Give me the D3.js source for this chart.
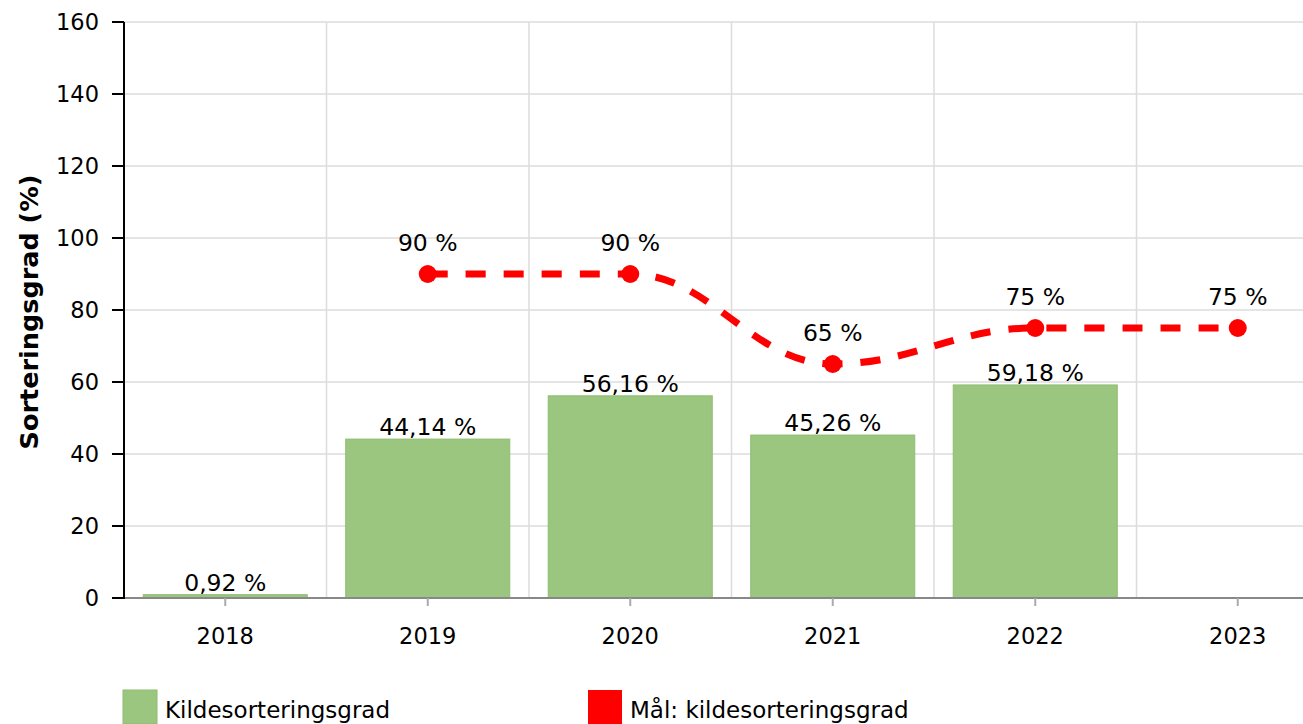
<!DOCTYPE html>
<html>
<head>
<meta charset="utf-8">
<script src="https://d3js.org/d3.v7.min.js"></script>
<style>
  body { margin: 0; background: white; overflow: hidden; }
  text { font-family: "DejaVu Sans", Verdana, sans-serif; }
</style>
</head>
<body>
<div id="chart"></div>
<script>
// data
var years = ["2018", "2019", "2020", "2021", "2022", "2023"];
var barValues = [0.92, 44.14, 56.16, 45.26, 59.18, null];
var barLabels = ["0,92 %", "44,14 %", "56,16 %", "45,26 %", "59,18 %", ""];
var goalYears = ["2019", "2020", "2021", "2022", "2023"];
var goalValues = [90, 90, 65, 75, 75];
var goalLabels = ["90 %", "90 %", "65 %", "75 %", "75 %"];
var yTicks = [0, 20, 40, 60, 80, 100, 120, 140, 160];
var legendNames = ["Kildesorteringsgrad", "Mål: kildesorteringsgrad"];

var W = 1303, H = 724;
var plotLeft = 124, plotTop = 22, plotBottom = 598;
var fs = "22.5px";

var svg = d3.select("#chart").append("svg")
    .attr("width", W).attr("height", H);

var x = d3.scaleBand().domain(years).range([plotLeft, plotLeft + 6 * 202.5]).paddingInner(0.19).paddingOuter(0.095);
var xc = function (d) { return x(d) + x.bandwidth() / 2; };
var y = d3.scaleLinear().domain([0, 160]).range([plotBottom, plotTop]);

// horizontal grid
svg.append("g").selectAll("line").data(yTicks.slice(1)).enter().append("line")
    .attr("x1", plotLeft).attr("x2", W)
    .attr("y1", function (d) { return y(d); }).attr("y2", function (d) { return y(d); })
    .attr("stroke", "#dcdcdc").attr("stroke-width", 1.5);

// vertical grid at band boundaries
var bounds = years.slice(1).map(function (d, i) { return (xc(d) + xc(years[i])) / 2; });
svg.append("g").selectAll("line").data(bounds).enter().append("line")
    .attr("x1", function (d) { return d; }).attr("x2", function (d) { return d; })
    .attr("y1", plotTop).attr("y2", plotBottom)
    .attr("stroke", "#dcdcdc").attr("stroke-width", 1.5);

// bars
var barData = years.map(function (d, i) { return { year: d, v: barValues[i], label: barLabels[i] }; })
    .filter(function (d) { return d.v != null; });
svg.append("g").selectAll("rect").data(barData).enter().append("rect")
    .attr("x", function (d) { return x(d.year); })
    .attr("width", x.bandwidth())
    .attr("y", function (d) { return y(d.v); })
    .attr("height", function (d) { return y(0) - y(d.v); })
    .attr("fill", "#9bc67f")
    .attr("stroke", "#8dbd6e").attr("stroke-width", 1);

svg.append("g").selectAll("text").data(barData).enter().append("text")
    .attr("x", function (d) { return xc(d.year); })
    .attr("y", function (d) { return y(d.v) - 4; })
    .attr("text-anchor", "middle")
    .style("font-size", "23.5px")
    .text(function (d) { return d.label; });

// x axis
svg.append("line").attr("x1", plotLeft).attr("x2", W).attr("y1", plotBottom).attr("y2", plotBottom)
    .attr("stroke", "#888").attr("stroke-width", 2);
svg.append("g").selectAll("line").data(years).enter().append("line")
    .attr("x1", xc).attr("x2", xc).attr("y1", plotBottom).attr("y2", plotBottom + 8)
    .attr("stroke", "#aaa").attr("stroke-width", 2);
svg.append("g").selectAll("text").data(years).enter().append("text")
    .attr("x", xc).attr("y", plotBottom + 46)
    .attr("text-anchor", "middle")
    .style("font-size", fs)
    .text(function (d) { return d; });

// y axis
svg.append("line").attr("x1", plotLeft).attr("x2", plotLeft).attr("y1", plotTop).attr("y2", plotBottom + 1)
    .attr("stroke", "#000").attr("stroke-width", 2);
svg.append("g").selectAll("line").data(yTicks).enter().append("line")
    .attr("x1", plotLeft - 12).attr("x2", plotLeft)
    .attr("y1", function (d) { return y(d); }).attr("y2", function (d) { return y(d); })
    .attr("stroke", "#000").attr("stroke-width", 2);
svg.append("g").selectAll("text").data(yTicks).enter().append("text")
    .attr("x", plotLeft - 25).attr("y", function (d) { return y(d) + 8; })
    .attr("text-anchor", "end")
    .style("font-size", fs)
    .text(function (d) { return d; });

svg.append("text")
    .attr("transform", "translate(38," + 312 + ") rotate(-90)")
    .attr("text-anchor", "middle")
    .style("font-size", "25.5px").style("font-weight", "bold")
    .text("Sorteringsgrad (%)");

// goal line: spline with control points like the original (smoothing 1.5, flat at extremes)
var goalData = goalYears.map(function (d, i) { return { year: d, v: goalValues[i], label: goalLabels[i] }; });
var pts = goalData.map(function (d) { return [xc(d.year), y(d.v)]; });
function splinePath(p) {
    var sm = 1.5, den = sm + 1, ctl = [];
    p.forEach(function (pt, i) {
        if (i === 0 || i === p.length - 1) { ctl.push({ l: pt, r: pt }); return; }
        var a = p[i - 1], b = p[i + 1];
        var lx = (sm * pt[0] + a[0]) / den, ly = (sm * pt[1] + a[1]) / den;
        var rx = (sm * pt[0] + b[0]) / den, ry = (sm * pt[1] + b[1]) / den;
        var corr = ((ry - ly) * (rx - pt[0])) / (rx - lx) + pt[1] - ry;
        ly += corr; ry += corr;
        if (ly > Math.max(a[1], pt[1])) { ly = Math.max(a[1], pt[1]); ry = 2 * pt[1] - ly; }
        else if (ly < Math.min(a[1], pt[1])) { ly = Math.min(a[1], pt[1]); ry = 2 * pt[1] - ly; }
        if (ry > Math.max(b[1], pt[1])) { ry = Math.max(b[1], pt[1]); ly = 2 * pt[1] - ry; }
        else if (ry < Math.min(b[1], pt[1])) { ry = Math.min(b[1], pt[1]); ly = 2 * pt[1] - ry; }
        ctl.push({ l: [lx, ly], r: [rx, ry] });
    });
    var path = d3.path();
    path.moveTo(p[0][0], p[0][1]);
    for (var i = 1; i < p.length; i++) {
        var c1 = ctl[i - 1].r, c2 = ctl[i].l;
        path.bezierCurveTo(c1[0], c1[1], c2[0], c2[1], p[i][0], p[i][1]);
    }
    return path.toString();
}
svg.append("path")
    .attr("d", splinePath(pts))
    .attr("fill", "none")
    .attr("stroke", "#ff0000")
    .attr("stroke-width", 7)
    .attr("stroke-dasharray", "20,18");
svg.append("g").selectAll("circle").data(goalData).enter().append("circle")
    .attr("cx", function (d) { return xc(d.year); })
    .attr("cy", function (d) { return y(d.v); })
    .attr("r", 9)
    .attr("fill", "#ff0000");
svg.append("g").selectAll("text").data(goalData).enter().append("text")
    .attr("x", function (d) { return xc(d.year); })
    .attr("y", function (d) { return y(d.v) - 23; })
    .attr("text-anchor", "middle")
    .style("font-size", "23.5px")
    .text(function (d) { return d.label; });

// legend
var legendX = [123, 588];
var legendColors = ["#9bc67f", "#ff0000"];
var leg = svg.append("g").selectAll("g").data(legendNames).enter().append("g")
    .attr("transform", function (d, i) { return "translate(" + legendX[i] + ",690)"; });
leg.append("rect").attr("width", 34).attr("height", 34)
    .attr("fill", function (d, i) { return legendColors[i]; })
    .attr("stroke", function (d, i) { return i === 0 ? "#8dbd6e" : "none"; });
leg.append("text").attr("x", 42).attr("y", 28)
    .style("font-size", "23px")
    .text(function (d) { return d; });
</script>
</body>
</html>
